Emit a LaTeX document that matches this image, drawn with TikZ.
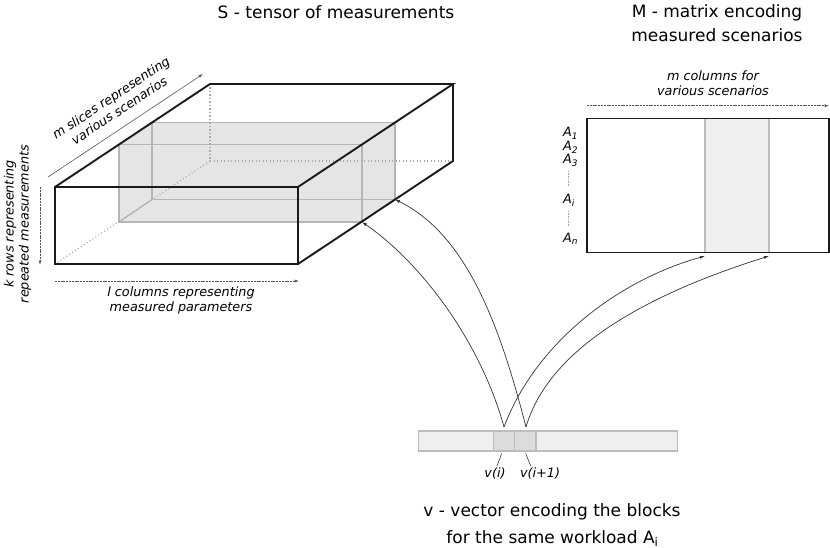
\documentclass[tikz,border=0pt]{standalone}
\usepackage{fontspec}
\setmainfont{DejaVu Sans}
\usetikzlibrary{arrows.meta}
\definecolor{cubeline}{HTML}{1A1A1A}
\definecolor{dotgray}{HTML}{A8A8A8}
\definecolor{slicegray}{HTML}{B5B5B5}
\definecolor{slicefill}{HTML}{E5E5E5}
\definecolor{colfill}{HTML}{F0F0F0}
\definecolor{colline}{HTML}{BCBCBC}
\definecolor{barfill}{HTML}{EFEFEF}
\definecolor{blockfill}{HTML}{DCDCDC}
\definecolor{guidegray}{HTML}{555555}
\definecolor{linkgray}{HTML}{333333}
\begin{document}
\begin{tikzpicture}[x=1pt,y=-1pt,
  cube/.style={draw=cubeline,line width=1.9pt,line join=miter},
  hidden/.style={draw=dotgray,line width=1.1pt,dash pattern=on 1.1pt off 2.4pt},
  slice/.style={draw=slicegray,line width=1.2pt},
  guide/.style={draw=guidegray,line width=0.6pt,dash pattern=on 2pt off 0.8pt,-{Latex[length=4.5pt,width=3pt]}},
  solidguide/.style={draw=guidegray,line width=0.6pt,-{Latex[length=4.5pt,width=3pt]}},
  link/.style={draw=linkgray,line width=0.7pt,-{Latex[length=5pt,width=3.2pt]}},
  leader/.style={draw=linkgray,line width=0.6pt},
  title/.style={font=\fontsize{17}{25}\selectfont,inner sep=0pt},
  lab/.style={font=\fontsize{12.8}{15}\selectfont\itshape,align=center,inner sep=0pt},
  alab/.style={font=\fontsize{12.8}{15}\selectfont\itshape,inner sep=0pt,anchor=base west},
]
\useasboundingbox (0,0) rectangle (830,548);

% ---------- cube corners ----------
\coordinate (f1) at (55,187);  \coordinate (f2) at (298,187);
\coordinate (f3) at (298,264); \coordinate (f4) at (55,264);
\coordinate (b1) at (210,84);  \coordinate (b2) at (453,84);
\coordinate (b3) at (453,161); \coordinate (b4) at (210,161);

% ---------- slice corners ----------
\coordinate (s1) at (119,144.5); \coordinate (s2) at (362,144.5);
\coordinate (s3) at (362,222);   \coordinate (s4) at (119,222);
\coordinate (t1) at (152,122.5); \coordinate (t2) at (395,122.5);
\coordinate (t3) at (395,199.5); \coordinate (t4) at (152,199.5);

\fill[slicefill] (s4) -- (s1) -- (t1) -- (t2) -- (t3) -- (s3) -- cycle;
\draw[slice] (s1) -- (s2) -- (s3) -- (s4) -- cycle;
\draw[slice] (t1) -- (t2) -- (t3) -- (t4) -- cycle;
\draw[slice] (s1) -- (t1) (s2) -- (t2) (s3) -- (t3) (s4) -- (t4);

% hidden edges
\draw[hidden] (b1) -- (b4) -- (b3);
\draw[hidden] (b4) -- (f4);

% visible edges
\draw[cube] (f1) -- (f2) -- (f3) -- (f4) -- cycle;
\draw[cube] (f1) -- (b1) -- (b2) -- (f2);
\draw[cube] (b2) -- (b3) -- (f3);

% ---------- cube guides ----------
\coordinate (ms0) at (48,177); \coordinate (ms1) at (203,74);
\draw[solidguide] (ms0) -- (ms1);
\node[lab,anchor=south,rotate=33.6] (mslices) at (122,114.6)
  {m slices representing\\various scenarios};

\coordinate (kr0) at (40,187); \coordinate (kr1) at (40,265);
\draw[guide] (kr0) -- (kr1);
\node[lab,anchor=south,rotate=90] (krows) at (31.5,224)
  {k rows representing\\repeated measurements};

\coordinate (lc0) at (55,281); \coordinate (lc1) at (299,281);
\draw[guide] (lc0) -- (lc1);
\node[lab,anchor=north] (lcols) at (181,286.3)
  {l columns representing\\measured parameters};

% ---------- titles ----------
\node[title,anchor=base] (stitle) at (336,18.3) {S - tensor of measurements};
\node[title,anchor=base] (mtitle1) at (717,17.5) {M - matrix encoding};
\node[title,anchor=base] (mtitle2) at (717,42) {measured scenarios};

% ---------- matrix ----------
\coordinate (m0) at (587,118.5); \coordinate (m1) at (829,252.5);
\coordinate (c0) at (705,118.5); \coordinate (c1) at (769,252.5);
\fill[colfill] (c0) rectangle (c1);
\draw[draw=colline,line width=1.5pt] (705,118.5) -- (705,252.5) (769,118.5) -- (769,252.5);
\draw[cube] (m0) rectangle (m1);

\coordinate (mc0) at (587,105.7); \coordinate (mc1) at (829,105.7);
\draw[guide] (mc0) -- (mc1);
\node[lab,anchor=north] (mcols) at (713,70.3) {m columns for\\various scenarios};

\node[alab] (a1) at (563,137) {A\textsubscript{1}};
\node[alab] (a2) at (563,151) {A\textsubscript{2}};
\node[alab] (a3) at (563,164) {A\textsubscript{3}};
\node[alab] (ai) at (563,204) {A\textsubscript{i}};
\node[alab] (an) at (563,243) {A\textsubscript{n}};
\coordinate (d0) at (568.3,171); \coordinate (d1) at (568.3,187);
\coordinate (d2) at (568.3,211); \coordinate (d3) at (568.3,227);
\draw[draw=dotgray,line width=0.6pt,dash pattern=on 0.7pt off 0.9pt] (d0) -- (d1) (d2) -- (d3);

% ---------- vector ----------
\coordinate (v0) at (418.5,431); \coordinate (v1) at (677.5,451);
\coordinate (k0) at (493.5,431); \coordinate (k1) at (514.5,451);
\coordinate (k2) at (514.5,431); \coordinate (k3) at (536,451);
\draw[fill=barfill,draw=colline,line width=1.4pt] (v0) rectangle (v1);
\draw[fill=blockfill,draw=colline,line width=1.4pt] (k0) rectangle (k1);
\draw[fill=blockfill,draw=colline,line width=1.4pt] (k2) rectangle (k3);

\node[lab,anchor=north] (vi) at (495,468) {v(i)};
\node[lab,anchor=north] (vii) at (540,468) {v(i+1)};
\coordinate (l1) at (501.7,453.5); \coordinate (l1b) at (497,466);
\coordinate (l2) at (525.7,453.5); \coordinate (l2b) at (530.7,466);
\draw[leader] (l1) -- (l1b);
\draw[leader] (l2) -- (l2b);

\node[title,anchor=base] (vtitle1) at (552,516) {v - vector encoding the blocks};
\node[title,anchor=base] (vtitle2) at (552.5,543) {for the same workload A\textsubscript{i}};

% ---------- links ----------
\coordinate (vA) at (504,427); \coordinate (vB) at (526,427);
\coordinate (mA) at (705,256); \coordinate (mB) at (769,256);
\draw[link] (vA) .. controls (480,340) and (420,262) .. (s3);
\draw[link] (vB) .. controls (501,330) and (468,235) .. (t3);
\draw[link] (vA) .. controls (536,342) and (619,280) .. (mA);
\draw[link] (vB) .. controls (551,341) and (664,289) .. (mB);
\end{tikzpicture}
\end{document}
